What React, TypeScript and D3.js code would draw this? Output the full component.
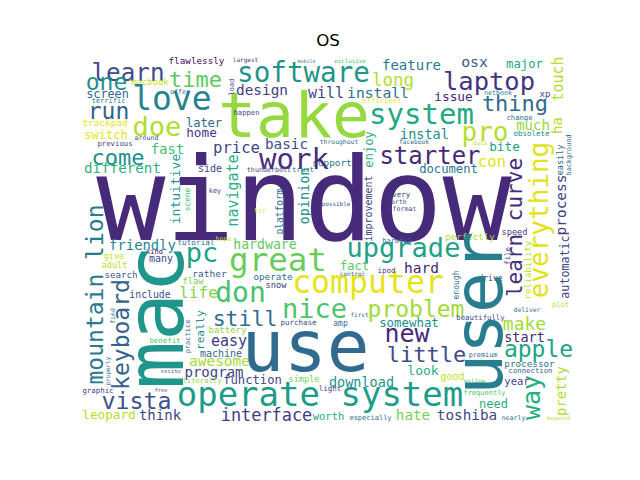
import React from "react";
import * as d3 from "d3";

// Horizontal words of the cloud (wordcloud layout, reference-pixel units)
const hWords = [
  "window", "take", "software", "long", "feature", "laptop", "osx", "major", "learn", "one",
  "time", "macbook", "love", "screen", "terrific", "run", "doe", "later", "home", "trackpad",
  "switch", "previous", "around", "fast", "come", "different", "flawlessly", "largest", "mobile", "exclusive",
  "design", "will", "install", "efficient", "issue", "netbook", "xp", "thing", "change", "much",
  "pro", "obsolete", "bite", "data", "con", "system", "instal", "starter", "document", "throughout",
  "facebook", "support", "happen", "price", "basic", "work", "side", "thunderbolt", "trust", "offer",
  "friendly", "give", "kind", "many", "adult", "search", "include", "tutorial", "pc", "rather",
  "life", "flaw", "hope", "hardware", "key", "tcr", "great", "operate", "snow", "don",
  "computer", "upgrade", "fact", "hard", "ipod", "control", "possible", "every", "north", "format",
  "harmful", "perfectly", "speed", "drive", "still", "nice", "purchase", "easy", "battery", "machine",
  "awesome", "program", "function", "simple", "literally", "interface", "worth", "light", "use", "operate system",
  "problem", "amp", "first", "somewhat", "new", "little", "look", "download", "good", "especially",
  "hate", "toshiba", "make", "deliver", "plot", "beautifully", "start", "apple", "premium", "processor",
  "connection", "year", "need", "frequently", "online", "nearly", "keyword", "vista", "leopard", "think",
  "graphic", "benefit", "excite", "free",
];
const hSizes = [
  115, 63, 27.6, 17.5, 14, 25.5, 14.8, 12.3, 24.3, 23,
  22, 8.8, 33, 11.8, 7, 23, 27, 12, 12.7, 9.4,
  12, 7.3, 6.6, 14, 22, 14.2, 9.3, 6, 5, 5.8,
  14.4, 15, 14.7, 7.2, 12.8, 6.7, 9, 22, 7.2, 14,
  26, 7.5, 12.7, 6, 15.5, 29, 13.5, 24, 12.2, 6.4,
  6.2, 9.4, 7.2, 15.6, 14.3, 29, 10, 6.7, 7.3, 6.5,
  13.9, 8.5, 7, 10, 8.5, 9.2, 9.8, 7.7, 27, 9.5,
  16, 8.8, 6.6, 13.2, 7, 7, 32.5, 9.3, 8.8, 28,
  31.5, 27, 12, 14.5, 7.5, 6, 6, 7.5, 6.3, 6.6,
  7, 9.1, 8.7, 8, 21.5, 27, 7.5, 15, 9, 10,
  14.5, 14, 12.2, 8.6, 7.2, 16.9, 10.5, 7.5, 71, 34,
  23, 8, 6, 12.4, 25, 22, 13, 13.5, 10, 7,
  14.3, 14.3, 18, 6.4, 7, 7.3, 13.5, 23, 6.8, 9.3,
  7.3, 10.5, 12, 7, 6, 6.6, 5.5, 23.3, 12.7, 14,
  7.4, 7.4, 5.5, 5.5,
];
// centre x of each word
const hX = [
  304, 294, 303.5, 393, 411.5, 489, 474.5, 524.5, 128, 106.5,
  195.5, 150, 172, 107.5, 108.5, 108.5, 157, 204, 201.5, 105,
  106, 115, 146.5, 167.5, 118, 122.5, 196.5, 245.5, 306.5, 350,
  262, 326, 378, 382, 453.5, 498, 545, 515, 519.5, 533,
  485, 531.5, 504.5, 480, 492, 421.5, 424.5, 430, 448.5, 339,
  414, 332, 246.5, 236.5, 286.5, 294, 210, 269, 303, 180,
  142.5, 114, 154.5, 161, 114.5, 121, 150, 196, 202, 209.5,
  198.5, 193, 223.5, 265, 215, 260, 278, 273, 276, 240.5,
  368, 403.5, 354.5, 421.5, 386.5, 352.5, 336, 399, 397, 404.5,
  397, 470, 514.5, 490.5, 245, 314.5, 298.5, 229, 227.5, 221,
  219.5, 214, 252.5, 304, 202, 266.5, 328.5, 330, 305.5, 320,
  416, 340.5, 359.5, 409, 407, 426.5, 423, 361.5, 452.5, 370.5,
  413, 467, 524.5, 527, 560.5, 480.5, 524.5, 538.5, 483, 529.5,
  530.5, 517, 493.5, 484.5, 474.5, 513.5, 558.5, 136.5, 109, 160,
  98, 165, 171, 161,
];
// baseline y of each word
const hY = [
  240, 137, 82, 86, 69.5, 90, 67, 67.5, 81, 90,
  87, 85, 110, 97.5, 102.5, 119, 135.5, 127, 136.5, 126,
  139, 145.5, 139.5, 154, 165, 173, 63.5, 62, 63, 63,
  95, 98, 98, 102.5, 101, 95, 97, 111, 120, 130,
  141, 135.5, 151, 145, 167, 124, 139, 164, 173, 144,
  144, 166, 115, 153, 149, 169, 172, 172, 172, 94,
  250, 258.5, 254, 262, 268, 278, 297.5, 244.5, 262, 277,
  298, 284, 241, 249, 193, 213, 271, 280, 288, 302,
  292.5, 257, 270, 272.5, 273, 275.5, 206, 197, 204, 211,
  243, 240, 235, 281, 326, 318, 325, 346, 333, 357,
  366, 377, 384, 382, 383, 420.5, 420, 391, 371, 406,
  317, 326, 317, 327, 342, 362, 375, 387, 380, 420,
  420, 420, 330, 312, 307, 320, 342, 357, 357, 366.5,
  373, 385, 408, 395, 383, 420, 420, 409, 418.5, 420,
  393, 343, 373, 392,
];
// position of each word's colour on the viridis colormap
const hT = [
  0.12, 0.84, 0.52, 0.89, 0.40, 0.15, 0.28, 0.60, 0.23, 0.50,
  0.75, 0.91, 0.44, 0.33, 0.42, 0.31, 0.88, 0.33, 0.17, 0.95,
  0.96, 0.22, 0.25, 0.69, 0.49, 0.64, 0.02, 0.16, 0.30, 0.70,
  0.18, 0.22, 0.36, 0.97, 0.11, 0.42, 0.20, 0.34, 0.35, 0.84,
  0.89, 0.45, 0.58, 0.90, 0.95, 0.60, 0.47, 0.11, 0.40, 0.35,
  0.35, 0.38, 0.20, 0.21, 0.23, 0.13, 0.20, 0.20, 0.38, 0.35,
  0.45, 0.91, 0.02, 0.20, 0.88, 0.28, 0.23, 0.36, 0.57, 0.28,
  0.82, 0.80, 0.89, 0.75, 0.20, 0.95, 0.77, 0.37, 0.18, 0.71,
  0.96, 0.57, 0.75, 0.10, 0.20, 0.30, 0.26, 0.20, 0.22, 0.20,
  0.35, 0.88, 0.20, 0.20, 0.35, 0.72, 0.22, 0.17, 0.83, 0.33,
  0.86, 0.20, 0.21, 0.79, 0.84, 0.17, 0.62, 0.20, 0.34, 0.55,
  0.86, 0.35, 0.30, 0.49, 0.11, 0.23, 0.62, 0.50, 0.91, 0.35,
  0.79, 0.20, 0.86, 0.35, 0.88, 0.20, 0.12, 0.58, 0.35, 0.37,
  0.33, 0.20, 0.63, 0.72, 0.72, 0.35, 0.88, 0.25, 0.89, 0.20,
  0.20, 0.72, 0.30, 0.30,
];

// Vertical words (rotated 90° counter-clockwise)
const vWords = [
  "mac", "user", "mountain lion", "keyboard", "intuitive", "navigate",
  "platform", "opinion", "improvement", "learn curve", "everything", "process", "automatic", "reliability", "file", "touch",
  "ha", "enjoy", "load", "easily", "background", "enough", "way", "pretty", "properly", "find",
  "practice", "really", "scene",
];
const vSizes = [
  80, 68, 23, 23, 13, 15,
  9.6, 13.5, 10, 21, 26, 14.5, 11.7, 8.8, 7.5, 15,
  14, 12.2, 7, 8.5, 6.8, 8, 25, 13.8, 6, 6.5,
  7, 11, 7.8,
];
// baseline x of each vertical word
const vX = [
  183, 502, 103, 129, 180, 238,
  283, 308.5, 372, 522, 548, 566, 569, 531, 510, 563,
  562, 373, 234, 563, 571, 459, 540, 566, 110, 115,
  190, 204, 190,
];
// centre y of each vertical word
const vY = [
  317, 313, 294.5, 334.5, 189, 190.5,
  211.5, 196, 208.5, 227.5, 220, 205, 267, 270, 256, 79,
  125.5, 149.5, 87, 160, 155, 285, 397.5, 391, 371, 316,
  336.5, 330, 199.5,
];
const vT = [
  0.52, 0.42, 0.41, 0.31, 0.54, 0.62,
  0.40, 0.50, 0.20, 0.13, 0.95, 0.18, 0.20, 0.90, 0.23, 0.88,
  0.89, 0.64, 0.20, 0.35, 0.35, 0.38, 0.62, 0.88, 0.37, 0.36,
  0.35, 0.48, 0.68,
];

const title = "OS";

export default function App() {
  const W = 640;
  const H = 480;
  const x = d3.scaleLinear().domain([0, 640]).range([0, W]);
  const y = d3.scaleLinear().domain([0, 480]).range([0, H]);
  const size = d3.scaleLinear().domain([0, 100]).range([0, 100]);
  const color = d3.scaleSequential(d3.interpolateViridis).domain([0, 1]);
  const font = "'DejaVu Sans Mono', 'Liberation Mono', monospace";

  return (
    <svg
      width={W}
      height={H}
      style={{ position: "absolute", left: 0, top: 0, background: "#ffffff" }}
    >
      <rect x={0} y={0} width={W} height={H} fill="#ffffff" />
      <text
        x={x(328)}
        y={y(46)}
        textAnchor="middle"
        fontFamily="'DejaVu Sans', sans-serif"
        fontSize={16.7}
        fill="#000"
      >
        {title}
      </text>
      <g fontFamily={font}>
        {hWords.map((w, i) => (
          <text
            key={"h" + i}
            x={x(hX[i])}
            y={y(hY[i])}
            textAnchor="middle"
            fontSize={size(hSizes[i])}
            fill={color(hT[i])}
            style={{ whiteSpace: "pre" }}
          >
            {w}
          </text>
        ))}
        {vWords.map((w, i) => (
          <text
            key={"v" + i}
            transform={`translate(${x(vX[i])},${y(vY[i])}) rotate(-90)`}
            textAnchor="middle"
            fontSize={size(vSizes[i])}
            fill={color(vT[i])}
            style={{ whiteSpace: "pre" }}
          >
            {w}
          </text>
        ))}
      </g>
    </svg>
  );
}
